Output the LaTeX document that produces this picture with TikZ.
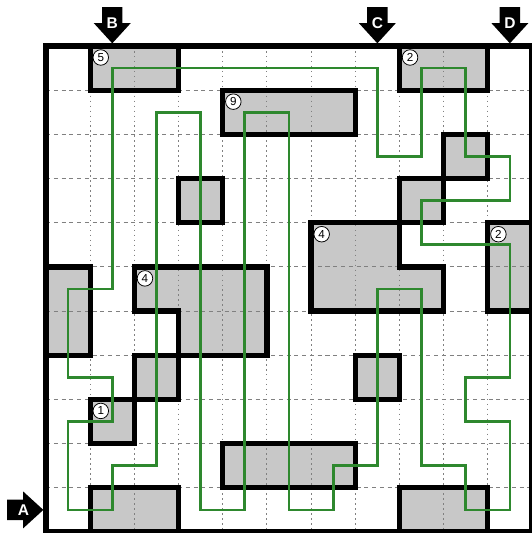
\documentclass[tikz,border=0pt]{standalone}
\usepackage{fontspec}
\setsansfont{Liberation Sans}
\usepackage{xcolor}
\usepackage{tikz}

\definecolor{routegreen}{RGB}{46,136,46}
\definecolor{cellgray}{RGB}{200,200,200}

% shaded blocks, grid corners (column,-row)
\newcommand{\blockshapes}{
  (1,0) rectangle (3,-1) (4,-1) rectangle (7,-2) (3,-3) rectangle (4,-4)
  (8,0) rectangle (10,-1) (9,-2) rectangle (10,-3) (8,-3) rectangle (9,-4)
  (6,-4) -- (8,-4) -- (8,-5) -- (9,-5) -- (9,-6) -- (6,-6) -- cycle
  (10,-4) rectangle (11,-6) (0,-5) rectangle (1,-7)
  (2,-5) -- (5,-5) -- (5,-7) -- (3,-7) -- (3,-6) -- (2,-6) -- cycle
  (2,-7) rectangle (3,-8) (1,-8) rectangle (2,-9) (7,-7) rectangle (8,-8)
  (4,-9) rectangle (7,-10) (1,-10) rectangle (3,-11) (8,-10) rectangle (10,-11)
}

\begin{document}
\begin{tikzpicture}[
  wall/.style={line width=3.4pt, line join=miter},
  hline/.style={gray, line width=0.6pt, dash pattern=on 2.6pt off 2.4pt},
  vline/.style={gray, line width=0.6pt, dash pattern=on 1pt off 2.2pt},
  route/.style={routegreen, line width=1.8pt, line join=miter},
  clue/.style={circle, draw, fill=white, line width=0.5pt, inner sep=0pt, minimum size=10pt, font=\sffamily\fontsize{7.5}{7.5}\selectfont},
  entry/.style={fill=black},
  entrylabel/.style={text=white, font=\sffamily\bfseries\fontsize{10}{10}\selectfont, inner sep=0pt}]
  \useasboundingbox (-1.041,-11.023) rectangle (11.0,1.041);

  \fill[white] (0,0) rectangle (11,-11);
  \fill[cellgray] \blockshapes;
  \foreach \i in {1,...,10} {
    \draw[hline] (0,-\i) -- (11,-\i);
    \draw[vline] (\i,0) -- (\i,-11);
  }
  \draw[wall] \blockshapes;
  \draw[wall] (0,0) rectangle (11,-11);

  % the loop through the cell centres
  \begin{scope}[shift={(0.5,-0.5)}]
    \draw[route] (1,0) -- (7,0) -- (7,-2) -- (8,-2) -- (8,0) -- (9,0) -- (9,-2) -- (10,-2)
      -- (10,-3) -- (8,-3) -- (8,-4) -- (10,-4) -- (10,-7) -- (9,-7) -- (9,-8) -- (10,-8)
      -- (10,-10) -- (9,-10) -- (9,-9) -- (8,-9) -- (8,-5) -- (7,-5) -- (7,-9) -- (6,-9)
      -- (6,-10) -- (5,-10) -- (5,-1) -- (4,-1) -- (4,-10) -- (3,-10) -- (3,-1) -- (2,-1)
      -- (2,-9) -- (1,-9) -- (1,-10) -- (0,-10) -- (0,-8) -- (1,-8) -- (1,-7) -- (0,-7)
      -- (0,-5) -- (1,-5) -- cycle;
  \end{scope}

  \node[clue] (c5) at (1.24,-0.26) {5};
  \node[clue] (c9) at (4.24,-1.26) {9};
  \node[clue] (c2a) at (8.24,-0.26) {2};
  \node[clue] (c4a) at (6.24,-4.26) {4};
  \node[clue] (c2b) at (10.24,-4.26) {2};
  \node[clue] (c4b) at (2.24,-5.26) {4};
  \node[clue] (c1) at (1.24,-8.26) {1};

  % entry arrows
  \foreach \x/\t in {1.5/B, 7.5/C, 10.5/D} {
    \begin{scope}[shift={(\x,0.06)}]
      \fill[entry] (0,0) -- (-0.42,0.46) -- (-0.23,0.46) -- (-0.23,0.82) -- (0.23,0.82) -- (0.23,0.46) -- (0.42,0.46) -- cycle;
      \node[entrylabel] (e\t) at (0,0.45) {\t};
    \end{scope}
  }
  \begin{scope}[shift={(-0.06,-10.5)}, rotate=90]
    \fill[entry] (0,0) -- (-0.42,0.46) -- (-0.23,0.46) -- (-0.23,0.82) -- (0.23,0.82) -- (0.23,0.46) -- (0.42,0.46) -- cycle;
    \node[entrylabel] (eA) at (0,0.45) {A};
  \end{scope}
\end{tikzpicture}
\end{document}
